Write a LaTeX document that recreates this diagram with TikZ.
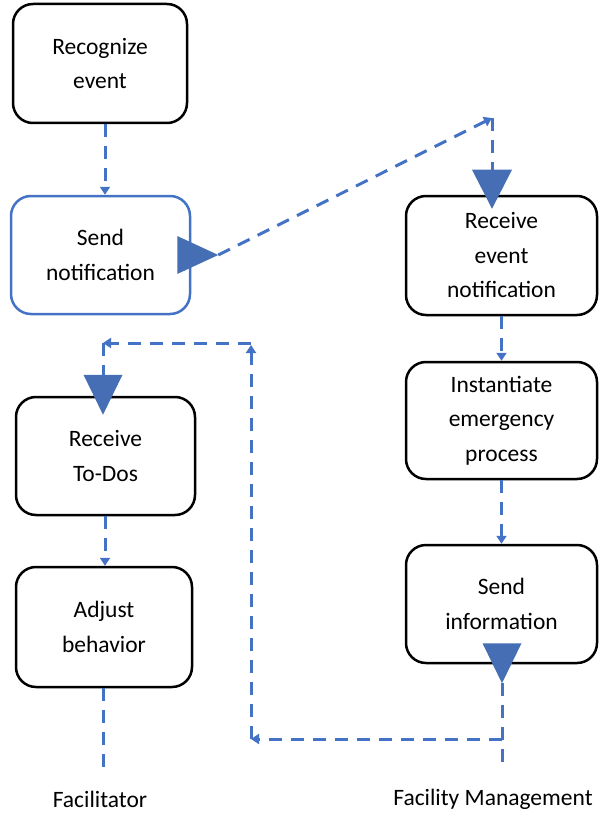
\documentclass[tikz,border=0pt]{standalone}
\usepackage{fontspec}
\setmainfont{Carlito}
\usetikzlibrary{arrows.meta,calc}
\definecolor{flowblue}{RGB}{68,114,196}
\definecolor{markblue}{RGB}{70,110,180}
\begin{document}
\begin{tikzpicture}[x=1pt,y=-1pt,
  task/.style={draw=black,line width=2.5pt,rounded corners=20pt,align=center,
    inner sep=0pt,font=\fontsize{23.5}{34.5}\selectfont},
  bluetask/.style={task,draw=flowblue},
  flow/.style={draw=flowblue,line width=3pt,dash pattern=on 13pt off 9pt},
  tipped/.style={-{Triangle[length=8pt,width=10pt]}},
  marker/.style={fill=markblue,draw=none},
  lane/.style={font=\fontsize{23.5}{28}\selectfont,inner sep=0pt}]
\useasboundingbox (0,0) rectangle (601,813);

% Facilitator tasks
\node[task,minimum width=174pt,minimum height=119pt] (rec) at (100,63.5) {Recognize\\event};
\node[bluetask,minimum width=179pt,minimum height=118pt] (sn) at (100.5,255) {Send\\notification};
\node[task,minimum width=179pt,minimum height=118pt] (rt) at (105.5,456) {Receive\\To-Dos};
\node[task,minimum width=176pt,minimum height=120pt] (ab) at (104,627) {Adjust\\behavior};

% Facility management tasks
\node[task,minimum width=191pt,minimum height=119pt] (ren) at (501.5,255.5) {Receive\\event\\notification};
\node[task,minimum width=191pt,minimum height=117pt] (ie) at (501.5,420.5) {Instantiate\\emergency\\process};
\node[task,minimum width=191pt,minimum height=118pt] (si) at (501.5,604) {Send\\information};

% lane labels
\node[lane] (facl) at (100,799) {Facilitator};
\node[lane] (fmgt) at (493,799) {Facility Management};

% sequence flows
\draw[flow,tipped] ([xshift=5pt]rec.south) -- ([xshift=5pt]rec.south |- sn.north);
\draw[flow,tipped] (ren.south) -- (ie.north);
\draw[flow,tipped] (ie.south) -- (si.north);
\draw[flow,tipped] ([xshift=-0.5pt]rt.south) -- ([xshift=-0.5pt]rt.south |- ab.north);

% message markers
\coordinate (snTip) at ($(sn.east)+(27,0)$);
\fill[marker] ($(sn.east)+(-14,-19)$) -- (snTip) -- ($(sn.east)+(-14,19)$) -- cycle;
\coordinate (renBase) at ($(ren.north)+(-9.5,-25)$);
\fill[marker] ($(renBase)+(-20,0)$) -- ($(ren.north)+(-9.5,14)$) -- ($(renBase)+(20,0)$) -- cycle;
\coordinate (siTip) at ($(si.south)+(0.5,19)$);
\fill[marker] ($(si.south)+(-19,-21)$) -- (siTip) -- ($(si.south)+(20,-21)$) -- cycle;
\coordinate (rtBase) at ($(rt.north)+(-2.5,-21)$);
\fill[marker] ($(rtBase)+(-19.5,0)$) -- ($(rt.north)+(-2.5,19)$) -- ($(rtBase)+(19.5,0)$) -- cycle;

% message flow: notification
\coordinate (w1) at (renBase |- 0,118);
\draw[flow,tipped] (snTip) -- (w1);
\draw[flow] (w1) -- (renBase);

% lifelines
\coordinate (fmEnd) at (siTip |- 0,767);
\draw[flow] (siTip) -- (fmEnd);
\coordinate (faEnd) at ([xshift=-1pt]ab.south |- 0,767);
\draw[flow] ([xshift=-1pt]ab.south) -- (faEnd);

% message flow: information back to the facilitator
\coordinate (r1) at (siTip |- 0,739);
\coordinate (r2) at (251,739);
\coordinate (r3) at (251,345);
\coordinate (r4) at (251,343);
\coordinate (r5) at (rtBase |- 0,343);
\draw[flow,tipped] (r1) -- (r2);
\draw[flow,tipped] (r2) -- (r3);
\draw[flow,tipped] (r4) -- (r5);
\draw[flow] (r5) -- (rtBase);
\end{tikzpicture}
\end{document}
